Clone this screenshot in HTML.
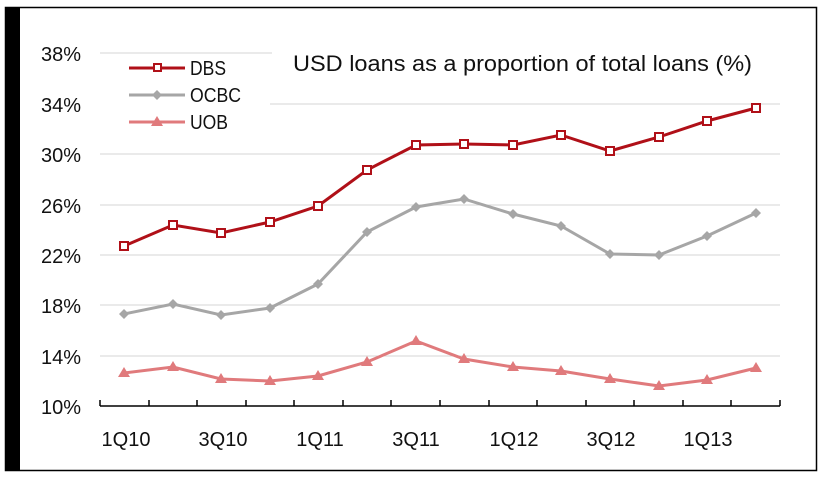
<!DOCTYPE html>
<html><head><meta charset="utf-8"><style>
html,body{margin:0;padding:0;background:#fff;}
svg{display:block;}
text{font-family:"Liberation Sans",Arial,sans-serif;fill:#111;}
</style></head><body>
<svg width="824" height="478" viewBox="0 0 824 478" xmlns="http://www.w3.org/2000/svg">
<rect x="5.5" y="7.5" width="811" height="463" fill="#fff" stroke="#000" stroke-width="1.5"/>
<rect x="5" y="7" width="15" height="464" fill="#000"/>
<g stroke="#d6d6d6" stroke-width="1">
<line x1="100" y1="53" x2="780" y2="53"/>
<line x1="100" y1="104" x2="780" y2="104"/>
<line x1="100" y1="154" x2="780" y2="154"/>
<line x1="100" y1="205" x2="780" y2="205"/>
<line x1="100" y1="255" x2="780" y2="255"/>
<line x1="100" y1="305" x2="780" y2="305"/>
<line x1="100" y1="356" x2="780" y2="356"/>
</g>
<rect x="99" y="58" width="171" height="76" fill="#fff"/>
<rect x="272" y="40" width="510" height="42" fill="#fff"/>
<g stroke="#000" stroke-width="1.5">
<line x1="100" y1="406" x2="780" y2="406"/>
<line x1="100" y1="400" x2="100" y2="406"/><line x1="149" y1="400" x2="149" y2="406"/><line x1="197" y1="400" x2="197" y2="406"/><line x1="246" y1="400" x2="246" y2="406"/><line x1="294" y1="400" x2="294" y2="406"/><line x1="343" y1="400" x2="343" y2="406"/><line x1="391" y1="400" x2="391" y2="406"/><line x1="440" y1="400" x2="440" y2="406"/><line x1="489" y1="400" x2="489" y2="406"/><line x1="537" y1="400" x2="537" y2="406"/><line x1="586" y1="400" x2="586" y2="406"/><line x1="634" y1="400" x2="634" y2="406"/><line x1="683" y1="400" x2="683" y2="406"/><line x1="731" y1="400" x2="731" y2="406"/><line x1="780" y1="400" x2="780" y2="406"/>
</g>
<g font-size="20" text-anchor="end">
<text x="81" y="61">38%</text><text x="81" y="112">34%</text><text x="81" y="162">30%</text><text x="81" y="213">26%</text><text x="81" y="263">22%</text><text x="81" y="313">18%</text><text x="81" y="364">14%</text><text x="81" y="414">10%</text>
</g>
<g font-size="20" text-anchor="middle">
<text x="126" y="446">1Q10</text><text x="223" y="446">3Q10</text><text x="320" y="446">1Q11</text><text x="416" y="446">3Q11</text><text x="514" y="446">1Q12</text><text x="611" y="446">3Q12</text><text x="708" y="446">1Q13</text>
</g>
<text x="293" y="71" font-size="22" textLength="459" lengthAdjust="spacingAndGlyphs">USD loans as a proportion of total loans (%)</text>
<!-- UOB -->
<polyline fill="none" stroke="#e07a7c" stroke-width="3" points="124,373 173,367 221,379 270,381 318,376 367,362 416,341 464,359 513,367 561,371 610,379 659,386 707,380 756,368"/>
<g fill="#e07a7c">
<path d="M124,367 l6,10 h-12z M173,361 l6,10 h-12z M221,373 l6,10 h-12z M270,375 l6,10 h-12z M318,370 l6,10 h-12z M367,356 l6,10 h-12z M416,335 l6,10 h-12z M464,353 l6,10 h-12z M513,361 l6,10 h-12z M561,365 l6,10 h-12z M610,373 l6,10 h-12z M659,380 l6,10 h-12z M707,374 l6,10 h-12z M756,362 l6,10 h-12z"/>
</g>
<!-- OCBC -->
<polyline fill="none" stroke="#a6a6a6" stroke-width="3" points="124,314 173,304 221,315 270,308 318,284 367,232 416,207 464,199 513,214 561,226 610,254 659,255 707,236 756,213"/>
<g fill="#a6a6a6">
<path d="M124,309 l5,5 -5,5 -5,-5z M173,299 l5,5 -5,5 -5,-5z M221,310 l5,5 -5,5 -5,-5z M270,303 l5,5 -5,5 -5,-5z M318,279 l5,5 -5,5 -5,-5z M367,227 l5,5 -5,5 -5,-5z M416,202 l5,5 -5,5 -5,-5z M464,194 l5,5 -5,5 -5,-5z M513,209 l5,5 -5,5 -5,-5z M561,221 l5,5 -5,5 -5,-5z M610,249 l5,5 -5,5 -5,-5z M659,250 l5,5 -5,5 -5,-5z M707,231 l5,5 -5,5 -5,-5z M756,208 l5,5 -5,5 -5,-5z"/>
</g>
<!-- DBS -->
<polyline fill="none" stroke="#b01018" stroke-width="3" points="124,246 173,225 221,233 270,222 318,206 367,170 416,145 464,144 513,145 561,135 610,151 659,137 707,121 756,108"/>
<g fill="#fff" stroke="#b01018" stroke-width="2">
<rect x="120" y="242" width="8" height="8"/><rect x="169" y="221" width="8" height="8"/><rect x="217" y="229" width="8" height="8"/><rect x="266" y="218" width="8" height="8"/><rect x="314" y="202" width="8" height="8"/><rect x="363" y="166" width="8" height="8"/><rect x="412" y="141" width="8" height="8"/><rect x="460" y="140" width="8" height="8"/><rect x="509" y="141" width="8" height="8"/><rect x="557" y="131" width="8" height="8"/><rect x="606" y="147" width="8" height="8"/><rect x="655" y="133" width="8" height="8"/><rect x="703" y="117" width="8" height="8"/><rect x="752" y="104" width="8" height="8"/>
</g>
<!-- legend -->
<line x1="129" y1="68" x2="185" y2="68" stroke="#b01018" stroke-width="3"/>
<rect x="154" y="64" width="7" height="7" fill="#fff" stroke="#b01018" stroke-width="2"/>
<text x="190" y="75" font-size="20" textLength="36" lengthAdjust="spacingAndGlyphs">DBS</text>
<line x1="129" y1="95" x2="185" y2="95" stroke="#a6a6a6" stroke-width="3"/>
<path d="M157,90 l5,5 -5,5 -5,-5z" fill="#a6a6a6"/>
<text x="190" y="102" font-size="20" textLength="51" lengthAdjust="spacingAndGlyphs">OCBC</text>
<line x1="129" y1="122" x2="185" y2="122" stroke="#e07a7c" stroke-width="3"/>
<path d="M157,116 l6,10 h-12z" fill="#e07a7c"/>
<text x="190" y="129" font-size="20" textLength="38" lengthAdjust="spacingAndGlyphs">UOB</text>
</svg>
</body></html>
